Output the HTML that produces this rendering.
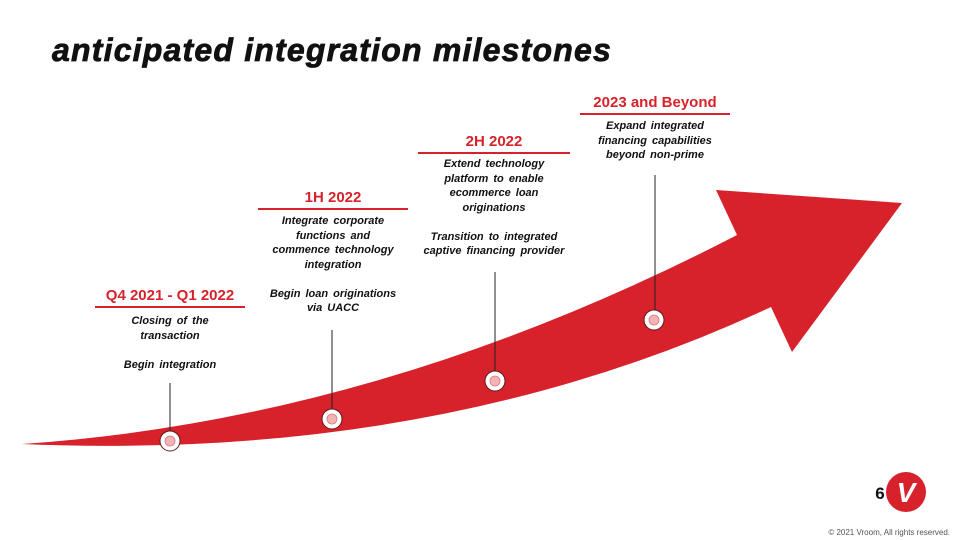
<!DOCTYPE html>
<html><head><meta charset="utf-8"><style>
body{margin:0;width:960px;height:540px;background:#fff;position:relative;overflow:hidden;font-family:"Liberation Sans",Arial,sans-serif}
.t{position:absolute;left:52px;top:32px;font-size:32px;font-weight:bold;font-style:italic;color:#111;letter-spacing:1.2px;-webkit-text-stroke:0.8px #111}
.h{position:absolute;color:#d7222b;font-weight:bold;font-size:15px;text-align:center;border-bottom:2px solid #d7222b;padding-bottom:2px}
.b{position:absolute;font-size:11px;font-weight:bold;font-style:italic;text-align:center;line-height:14.5px;color:#111;word-spacing:2px}
</style></head><body>
<div class="t">anticipated integration milestones</div>
<svg width="960" height="540" style="position:absolute;left:0;top:0">
<path d="M22,444 Q380,420 737,235 L716,190 L902,203 L792,352 L771,307 Q440,462 22,444 Z" fill="#d7222b"/>
<g stroke="#222" stroke-width="1">
<line x1="170" y1="383" x2="170" y2="431"/><line x1="332" y1="330" x2="332" y2="409"/>
<line x1="495" y1="272" x2="495" y2="371"/><line x1="655" y1="175" x2="655" y2="310"/>
</g>
<g>
<circle cx="170" cy="441" r="10" fill="#fff" stroke="#5a1a1a" stroke-width="1"/><circle cx="170" cy="441" r="5" fill="#f3b4b8" stroke="#d77" stroke-width=".8"/>
<circle cx="332" cy="419" r="10" fill="#fff" stroke="#5a1a1a" stroke-width="1"/><circle cx="332" cy="419" r="5" fill="#f3b4b8" stroke="#d77" stroke-width=".8"/>
<circle cx="495" cy="381" r="10" fill="#fff" stroke="#5a1a1a" stroke-width="1"/><circle cx="495" cy="381" r="5" fill="#f3b4b8" stroke="#d77" stroke-width=".8"/>
<circle cx="654" cy="320" r="10" fill="#fff" stroke="#5a1a1a" stroke-width="1"/><circle cx="654" cy="320" r="5" fill="#f3b4b8" stroke="#d77" stroke-width=".8"/>
</g>
<circle cx="906" cy="492" r="20" fill="#d7222b"/>
<text x="906" y="502" font-family="Liberation Sans" font-weight="bold" font-style="italic" font-size="28" fill="#fff" text-anchor="middle">V</text>
<text x="880" y="499" font-family="Liberation Sans" font-weight="bold" font-size="17" fill="#111" text-anchor="middle">6</text>
<text x="950" y="535" font-family="Liberation Sans" font-size="8" fill="#555" text-anchor="end">© 2021 Vroom, All rights reserved.</text>
</svg>
<div class="h" style="left:95px;top:287px;width:150px">Q4 2021 - Q1 2022</div>
<div class="b" style="left:95px;top:314px;width:150px">Closing of the<br>transaction<br><br>Begin integration</div>
<div class="h" style="left:258px;top:189px;width:150px">1H 2022</div>
<div class="b" style="left:253px;top:214px;width:160px">Integrate corporate<br>functions and<br>commence technology<br>integration<br><br>Begin loan originations<br>via UACC</div>
<div class="h" style="left:418px;top:133px;width:152px">2H 2022</div>
<div class="b" style="left:410px;top:157px;width:168px">Extend technology<br>platform to enable<br>ecommerce loan<br>originations<br><br>Transition to integrated<br>captive financing provider</div>
<div class="h" style="left:580px;top:94px;width:150px">2023 and Beyond</div>
<div class="b" style="left:575px;top:119px;width:160px">Expand integrated<br>financing capabilities<br>beyond non-prime</div>
</body></html>
